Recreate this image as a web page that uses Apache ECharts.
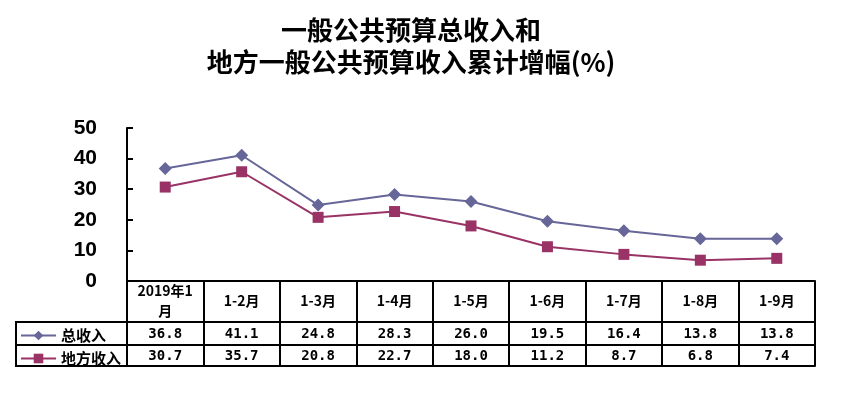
<!DOCTYPE html>
<html>
<head>
<meta charset="utf-8">
<script src="https://cdn.jsdelivr.net/npm/echarts@6/dist/echarts.min.js"></script>
<style>
  html, body { margin: 0; padding: 0; background: #fff; }
  #main { width: 844px; height: 399px; }
</style>
</head>
<body>
<div id="main"></div>
<script>
// data
var months = ['2019年1\n月', '1-2月', '1-3月', '1-4月', '1-5月', '1-6月', '1-7月', '1-8月', '1-9月'];
var totalIncome = [36.8, 41.1, 24.8, 28.3, 26.0, 19.5, 16.4, 13.8, 13.8];
var localIncome = [30.7, 35.7, 20.8, 22.7, 18.0, 11.2, 8.7, 6.8, 7.4];
var seriesNames = ['总收入', '地方收入'];
var yTicks = { min: 0, max: 50, interval: 10 };

var chart = echarts.init(document.getElementById('main'));
window.addEventListener('resize', function () { chart.resize(); });

var black = '#000';
var cnFont = '"Noto Sans CJK SC", sans-serif';

// table rows are extra x axes stacked under the plot
function rowAxis(offset, values, margin) {
  return {
    type: 'category',
    data: months,
    position: 'bottom',
    offset: offset,
    axisLine: { show: true, lineStyle: { color: black, width: 2 } },
    axisTick: { show: false },
    axisLabel: values ? {
      margin: margin,
      verticalAlign: 'middle',
      color: black,
      fontSize: 14,
      fontWeight: 'bold',
      fontFamily: 'monospace',
      formatter: function (v, i) { return values[i].toFixed(1); }
    } : { show: false }
  };
}

chart.setOption({
  backgroundColor: '#fff',
  animation: false,
  title: {
    text: '一般公共预算总收入和\n地方一般公共预算收入累计增幅(%)',
    left: 406,
    top: 9,
    textAlign: 'center',
    textStyle: { fontSize: 26, fontWeight: 'bold', fontFamily: cnFont, color: black, lineHeight: 32 }
  },
  legend: {
    orient: 'vertical',
    left: 15,
    top: 323,
    itemGap: 8,
    itemWidth: 35,
    itemHeight: 12,
    data: seriesNames,
    textStyle: { fontSize: 15, fontWeight: 'bold', fontFamily: cnFont, color: black }
  },
  grid: { left: 127, right: 29, top: 128, bottom: 118 },
  xAxis: [
    {
      type: 'category',
      data: months,
      boundaryGap: true,
      axisLine: { lineStyle: { color: black, width: 2 } },
      axisTick: { show: true, inside: false, length: 85, lineStyle: { color: black, width: 2 } },
      axisLabel: {
        interval: 0,
        margin: 20,
        verticalAlign: 'middle',
        color: black,
        fontSize: 14,
        fontWeight: 'bold',
        fontFamily: cnFont,
        lineHeight: 20
      }
    },
    rowAxis(41, totalIncome, 12),
    rowAxis(64, localIncome, 11),
    rowAxis(85, null, 0)
  ],
  yAxis: {
    type: 'value',
    min: yTicks.min,
    max: yTicks.max,
    interval: yTicks.interval,
    axisLine: { show: true, lineStyle: { color: black, width: 2 } },
    axisTick: { show: true, inside: true, length: 6, lineStyle: { color: black, width: 2 } },
    splitLine: { show: false },
    axisLabel: { margin: 30, color: black, fontSize: 21, fontWeight: 'bold', fontFamily: '"Liberation Sans", Arial, sans-serif' }
  },
  series: [
    {
      name: seriesNames[0],
      type: 'line',
      data: totalIncome,
      symbol: 'diamond',
      symbolSize: 13,
      itemStyle: { color: '#666699' },
      lineStyle: { color: '#666699', width: 2 }
    },
    {
      name: seriesNames[1],
      type: 'line',
      data: localIncome,
      symbol: 'rect',
      symbolSize: 11,
      itemStyle: { color: '#993366' },
      lineStyle: { color: '#993366', width: 2 }
    }
  ],
  // row header box left of the table
  graphic: [
    { type: 'line', shape: { x1: 16, y1: 322, x2: 127, y2: 322 }, style: { stroke: black, lineWidth: 2 } },
    { type: 'line', shape: { x1: 16, y1: 345, x2: 127, y2: 345 }, style: { stroke: black, lineWidth: 2 } },
    { type: 'line', shape: { x1: 16, y1: 366, x2: 127, y2: 366 }, style: { stroke: black, lineWidth: 2 } },
    { type: 'line', shape: { x1: 16, y1: 321, x2: 16, y2: 367 }, style: { stroke: black, lineWidth: 2 } }
  ]
});
</script>
</body>
</html>
